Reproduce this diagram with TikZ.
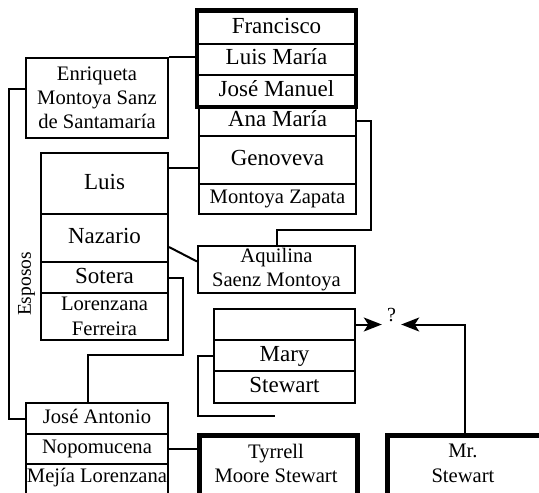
\documentclass[tikz,border=0pt]{standalone}
\usepackage{fontspec}
\setmainfont{Liberation Serif}
\usetikzlibrary{arrows.meta}
\begin{document}
\begin{tikzpicture}[x=1pt,y=-1pt,
  cell/.style={draw, line width=2pt, inner xsep=0pt, inner ysep=2pt,
    anchor=north west, align=center},
  big/.style={cell, font=\fontsize{23}{26}\selectfont,
    text height=16pt, text depth=5pt},
  small/.style={cell, font=\fontsize{20.6}{24}\selectfont},
  smallone/.style={small, text height=14.4pt, text depth=4.5pt},
  heavy/.style={line width=4.5pt},
  frame/.style={draw, heavy, anchor=north west, inner sep=0pt},
  caption/.style={font=\fontsize{20.6}{24.5}\selectfont, align=center},
  link/.style={line width=2pt},
  arrowlink/.style={link, -{Stealth[length=18pt,width=14pt,inset=4.5pt]}},
]
\useasboundingbox (0,0) rectangle (539,493);
\clip (0,0) rectangle (539,493);

% brothers column (top right)
\node[big, minimum width=157pt, minimum height=32pt]   (fran) at (197,10.5) {Francisco};
\node[big, minimum width=157pt, minimum height=31.5pt] (lmar) at (197,42.5) {Luis María};
\node[big, minimum width=157pt, minimum height=31pt]   (jman) at (197,74) {José Manuel};
\draw[heavy] (fran.north west) rectangle (jman.south east);
\node[big, minimum width=157pt, minimum height=30pt]   (ana) at (198,105) {Ana María};
\node[big, minimum width=157pt, minimum height=48pt]   (gen) at (198,135) {Genoveva};
\node[smallone, minimum width=157pt, minimum height=30pt] (mza) at (198,183) {Montoya Zapata};

% left column
\node[small, minimum width=142pt, minimum height=80pt] (enr) at (25,57)
  {Enriqueta\\Montoya Sanz\\de Santamaría};
\node[big, minimum width=127pt, minimum height=61pt] (luis) at (40,152) {Luis};
\node[big, minimum width=127pt, minimum height=48pt] (naz) at (40,213) {Nazario};
\node[big, minimum width=127pt, minimum height=31pt] (sot) at (40,261) {Sotera};
\node[small, minimum width=127pt, minimum height=47pt,
  font=\fontsize{20.6}{25}\selectfont] (lfe) at (40,292) {Lorenzana\\Ferreira};

\node[small, minimum width=157pt, minimum height=47pt] (aqu) at (197,245)
  {Aquilina\\Saenz Montoya};

% Mary Stewart
\node[big, minimum width=141pt, minimum height=31pt] (emp)  at (213,308) {};
\node[big, minimum width=141pt, minimum height=31pt] (mary) at (213,339) {Mary};
\node[big, minimum width=141pt, minimum height=32pt] (stw)  at (213,370) {Stewart};

% bottom row
\node[smallone, minimum width=142pt, minimum height=31pt] (jan) at (25,402) {José Antonio};
\node[smallone, minimum width=142pt, minimum height=30pt] (nop) at (25,433) {Nopomucena};
\node[smallone, minimum width=142pt, minimum height=47pt, text depth=25.4pt]
  (mej) at (25,463) {Mejía Lorenzana};

\node[frame, minimum width=158pt, minimum height=80pt] (tyr) at (197,433) {};
\node[caption] (tyrt) at (276,463.5) {Tyrrell\\Moore Stewart};
\node[frame, minimum width=156pt, minimum height=80pt] (mrs) at (385,433) {};
\node[caption] (mrst) at (463,463.5) {Mr.\\Stewart};

\node[font=\fontsize{20}{22}\selectfont, inner sep=0pt, minimum width=19pt]
  (q) at (391.5,315) {?};
\node[rotate=90, font=\fontsize{19.5}{22}\selectfont, inner sep=0pt]
  (esp) at (26.5,284) {Esposos};

% connectors
\draw[link] (enr.north east) -- (enr.north east -| lmar.west);
\draw[link] ([yshift=9pt]enr.west) -- ++(-16,0) |- (jan.west);
\draw[link] ([yshift=-8pt]gen.west) -- ([yshift=-8pt]gen.west -| luis.east);
\draw[link] ([yshift=-9pt]naz.east) -- ([yshift=8pt]aqu.west);
\draw[link] (ana.east) -- ++(14,0) -- ++(0,109) -| (aqu.north);
\draw[link] (sot.east) -- ++(14,0) -- ++(0,77.5) -| ([xshift=-9pt]jan.north);
\coordinate (maryend) at (275,416);
\draw[link] (mary.west) -- ++(-15,0) |- (maryend);
\draw[link] (nop.east) -- (nop.east -| tyr.west);
\draw[arrowlink] (emp.east) -- (emp.east -| q.west);
\draw[arrowlink] (mrs.north) |- (q.east |- emp.east);
\end{tikzpicture}
\end{document}
